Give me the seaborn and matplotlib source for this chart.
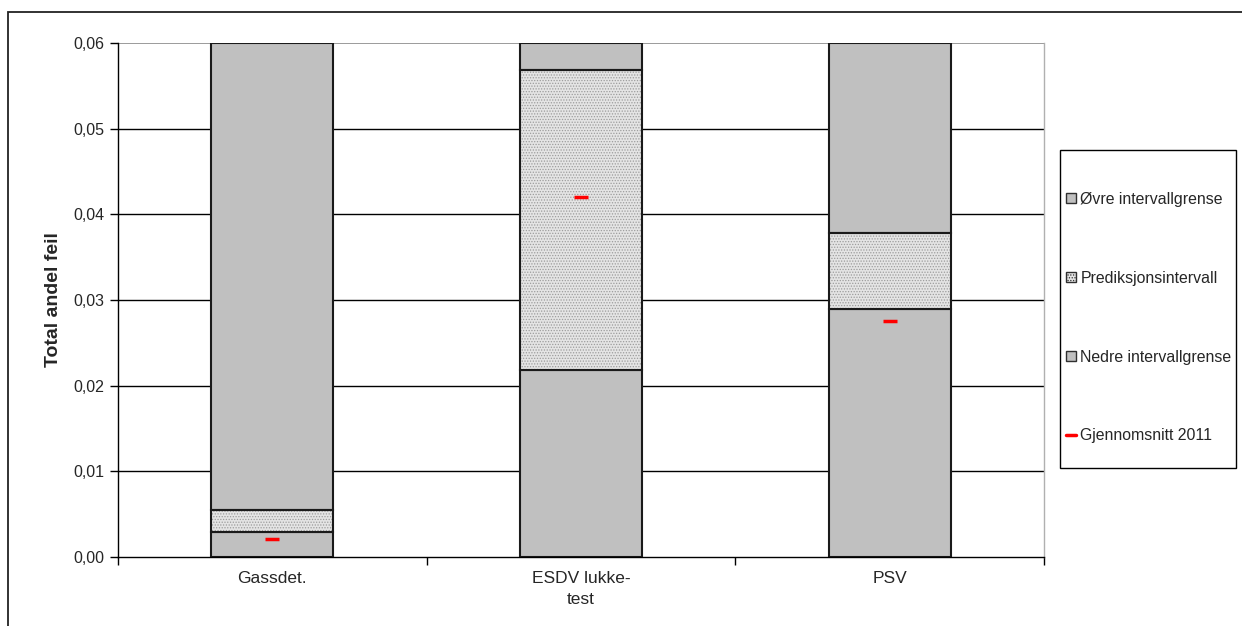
import matplotlib
matplotlib.use("Agg")
import matplotlib.pyplot as plt
from matplotlib.patches import Patch, Rectangle
from matplotlib.lines import Line2D
from matplotlib.ticker import FuncFormatter
import seaborn as sns

# Barrier categories and stacked interval segments (share of failures)
categories = ["Gassdet.", "ESDV lukke-\ntest", "PSV"]
nedre = [0.0029, 0.0218, 0.0289]          # lower interval limit
prediksjon = [0.0026, 0.0351, 0.0089]     # width of prediction interval
ovre = [0.0545, 0.0031, 0.0222]           # remainder up to the axis top
snitt_2011 = [0.0021, 0.0420, 0.0275]     # average 2011

y_ticks = [0.00, 0.01, 0.02, 0.03, 0.04, 0.05, 0.06]

sns.set_theme(style="white")
plt.rcParams["font.family"] = ["Liberation Sans", "DejaVu Sans"]
plt.rcParams["hatch.linewidth"] = 0.6

fig = plt.figure(figsize=(12.42, 6.26), dpi=100)
ax = fig.add_axes([118 / 1242, 1 - 557 / 626, (1044 - 118) / 1242, (557 - 43) / 626])

gray = "#c0c0c0"
bw = 0.395
bottom_mid = list(nedre)
bottom_top = [a + b for a, b in zip(nedre, prediksjon)]

# gridlines behind bars
for t in y_ticks[1:-1]:
    ax.axhline(t, color="black", lw=1.0, zorder=0)
ax.axhline(0.06, color="#8a8a8a", lw=1.2, zorder=0)

# lower limit
sns.barplot(x=categories, y=nedre, color=gray, saturation=1, width=bw,
            edgecolor="#1a1a1a", linewidth=1.5, ax=ax, zorder=2)
# prediction interval: fine dotted fill, then its outline
sns.barplot(x=categories, y=prediksjon, bottom=bottom_mid, color="#e4e4e4",
            saturation=1, width=bw, hatch="......", edgecolor="#9c9c9c",
            linewidth=0, ax=ax, zorder=2)
sns.barplot(x=categories, y=prediksjon, bottom=bottom_mid, width=bw,
            color="#1a1a1a", saturation=1, fill=False, linewidth=1.5,
            ax=ax, zorder=3)
# upper limit
sns.barplot(x=categories, y=ovre, bottom=bottom_top, color=gray, saturation=1,
            width=bw, edgecolor="#1a1a1a", linewidth=1.5, ax=ax, zorder=2)

# 2011 average markers
sns.scatterplot(x=categories, y=snitt_2011, marker="_", s=90, linewidth=2.5,
                color="#ff0000", ax=ax, zorder=4, legend=False)

ax.set_xlim(-0.5, 2.5)
ax.set_ylim(0, 0.06)
ax.set_yticks(y_ticks)
ax.yaxis.set_major_formatter(FuncFormatter(lambda v, p: f"{v:.2f}".replace(".", ",")))

# x ticks sit on category boundaries; labels centred under bars
ax.set_xticks([-0.5, 0.5, 1.5, 2.5])
ax.set_xticklabels([])
ax.set_xticks([0, 1, 2], minor=True)
ax.set_xticklabels(categories, minor=True, fontsize=12.5, linespacing=1.5)
ax.tick_params(axis="x", which="minor", length=0, pad=10)
ax.tick_params(axis="x", which="major", direction="out", length=6, width=1, color="black", bottom=True)
ax.tick_params(axis="y", direction="out", length=6, width=1, color="black", left=True,
               labelsize=11.5, pad=4)

for side in ["left", "bottom"]:
    ax.spines[side].set_color("black")
    ax.spines[side].set_linewidth(1.0)
ax.spines["top"].set_visible(False)
ax.spines["right"].set_color("#b0b0b0")
ax.spines["right"].set_linewidth(1.0)

ax.set_xlabel("")
ax.set_ylabel("Total andel feil", fontsize=14, fontweight="bold", labelpad=8)

# legend
handles = [
    Patch(facecolor=gray, edgecolor="#303030", linewidth=1.0),
    Patch(facecolor="#e4e4e4", edgecolor="#303030", linewidth=1.0, hatch="......"),
    Patch(facecolor=gray, edgecolor="#303030", linewidth=1.0),
    Line2D([0], [0], color="#ff0000", lw=2.5),
]
labels = ["Øvre intervallgrense", "Prediksjonsintervall", "Nedre intervallgrense",
          "Gjennomsnitt 2011"]
fig.legend(handles, labels, loc="upper left",
           bbox_to_anchor=(1066 / 1242, 1 - 192 / 626), frameon=False,
           fontsize=11.4, handlelength=0.6, handleheight=0.6, handletextpad=0.3,
           labelspacing=4.03, borderpad=0, borderaxespad=0)
fig.patches.append(Rectangle((1060 / 1242, 1 - 468 / 626), 176 / 1242, 318 / 626,
                             transform=fig.transFigure, facecolor="none",
                             edgecolor="black", linewidth=1.0))

# outer chart border
fig.patches.append(Rectangle((8 / 1242, -0.1), 1.2, 1 - 12 / 626 + 0.1,
                             transform=fig.transFigure, facecolor="none",
                             edgecolor="#222222", linewidth=1.3))

fig.savefig("out.png", dpi=100)
